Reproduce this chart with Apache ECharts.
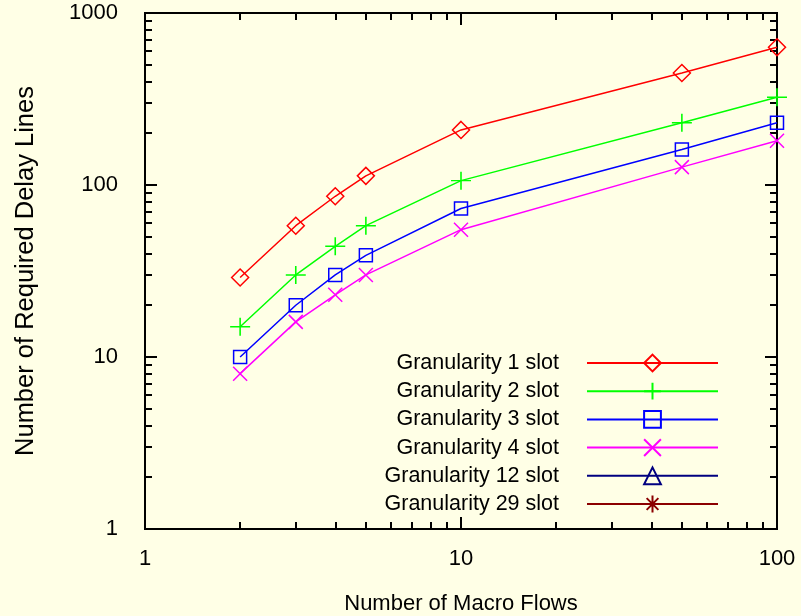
<!DOCTYPE html>
<html><head><meta charset="utf-8">
<script src="https://cdn.jsdelivr.net/npm/echarts@6/dist/echarts.min.js"></script>
<style>html,body{margin:0;padding:0;background:#FFFFE6;} #c{width:801px;height:616px;}</style>
</head><body><div id="c"></div>
<script>
const flows = [2, 3, 4, 5, 10, 50, 100];
const seriesNames = ['Granularity 1 slot', 'Granularity 2 slot', 'Granularity 3 slot', 'Granularity 4 slot', 'Granularity 12 slot', 'Granularity 29 slot'];
const g1 = [29, 58, 86, 113, 209, 448, 632];
const g2 = [15, 30, 44, 58, 106, 230, 324];
const g3 = [10, 20, 30, 39, 73, 161, 230];
const g4 = [8, 16, 23, 30, 55, 127, 181];
const g12 = [];
const g29 = [];
const xMinorTicks = [2, 3, 4, 5, 6, 7, 8, 9, 20, 30, 40, 50, 60, 70, 80, 90];
const yMinorTicks = [2, 3, 4, 5, 6, 7, 8, 9, 20, 30, 40, 50, 60, 70, 80, 90, 200, 300, 400, 500, 600, 700, 800, 900];
const xTitle = 'Number of Macro Flows';
const yTitle = 'Number of Required Delay Lines';

const FONT = 'Liberation Sans';
const colors = ['#FF0000', '#00FF00', '#0000FF', '#FF00FF', '#000080', '#8B0000'];
const symbols = ['diamond', 'path://M0,10 L20,10 M10,0 L10,20', 'rect', 'path://M0,0 L10,10 M0,10 L10,0', 'triangle',
  'path://M0,5 L10,5 M5,0 L5,10 M1.5,1.5 L8.5,8.5 M1.5,8.5 L8.5,1.5'];
const symbolSizes = [17, [20, 18], 13, 14, 17, 14];
const allData = [g1, g2, g3, g4, g12, g29];

function mkAxis(kind, pos, minor, show) {
  const isX = kind === 'x';
  return {
    type: 'log', logBase: 10,
    min: 1, max: isX ? 100 : 1000,
    position: pos,
    gridIndex: 0,
    axisLine: { show: true, onZero: false, lineStyle: { color: '#000', width: 2 } },
    axisTick: minor
      ? { show: true, inside: true, length: 7, lineStyle: { color: '#000', width: 2 }, customValues: isX ? xMinorTicks : yMinorTicks }
      : { show: true, inside: true, length: 12, lineStyle: { color: '#000', width: 2 } },
    axisLabel: show ? { show: true, color: '#000', fontFamily: FONT, fontSize: 22, margin: isX ? 19 : 27,
      formatter: function (v) { return String(Math.round(v)); } } : { show: false },
    splitLine: { show: false },
    minorTick: { show: false },
    minorSplitLine: { show: false },
    name: show ? (isX ? xTitle : yTitle) : '',
    nameLocation: 'middle',
    nameGap: isX ? 64 : 106,
    nameRotate: isX ? 0 : 90,
    nameTextStyle: { color: '#000', fontFamily: FONT, fontSize: isX ? 22 : 25.5 },
    silent: true
  };
}

const chart = echarts.init(document.getElementById('c'), null, { renderer: 'canvas' });
chart.setOption({
  backgroundColor: '#FFFFE6',
  animation: false,
  grid: { left: 145, right: 24, top: 13, bottom: 87, containLabel: false, outerBoundsMode: 'none' },
  xAxis: [mkAxis('x', 'bottom', false, true), mkAxis('x', 'bottom', true, false), mkAxis('x', 'top', false, false), mkAxis('x', 'top', true, false)],
  yAxis: [mkAxis('y', 'left', false, true), mkAxis('y', 'left', true, false), mkAxis('y', 'right', false, false), mkAxis('y', 'right', true, false)],
  legend: {
    orient: 'vertical',
    align: 'right',
    right: 77,
    top: 347,
    itemWidth: 131,
    itemHeight: 21,
    itemGap: 6.2,
    selectedMode: false,
    textStyle: { color: '#000', fontFamily: FONT, fontSize: 21.5, padding: [0, 23, 0, 0] },
    data: seriesNames
  },
  series: seriesNames.map((name, i) => ({
    name: name,
    type: 'line',
    xAxisIndex: 0, yAxisIndex: 0,
    data: flows.filter((f, j) => allData[i][j] !== undefined).map((f, j) => [f, allData[i][j]]),
    color: colors[i],
    symbol: symbols[i],
    symbolSize: symbolSizes[i],
    showAllSymbol: true,
    lineStyle: { color: colors[i], width: 1.5 },
    itemStyle: { color: 'rgba(0,0,0,0)', borderColor: colors[i], borderWidth: 1.5 },
    emphasis: { disabled: true },
    z: 3
  }))
});
</script></body></html>
